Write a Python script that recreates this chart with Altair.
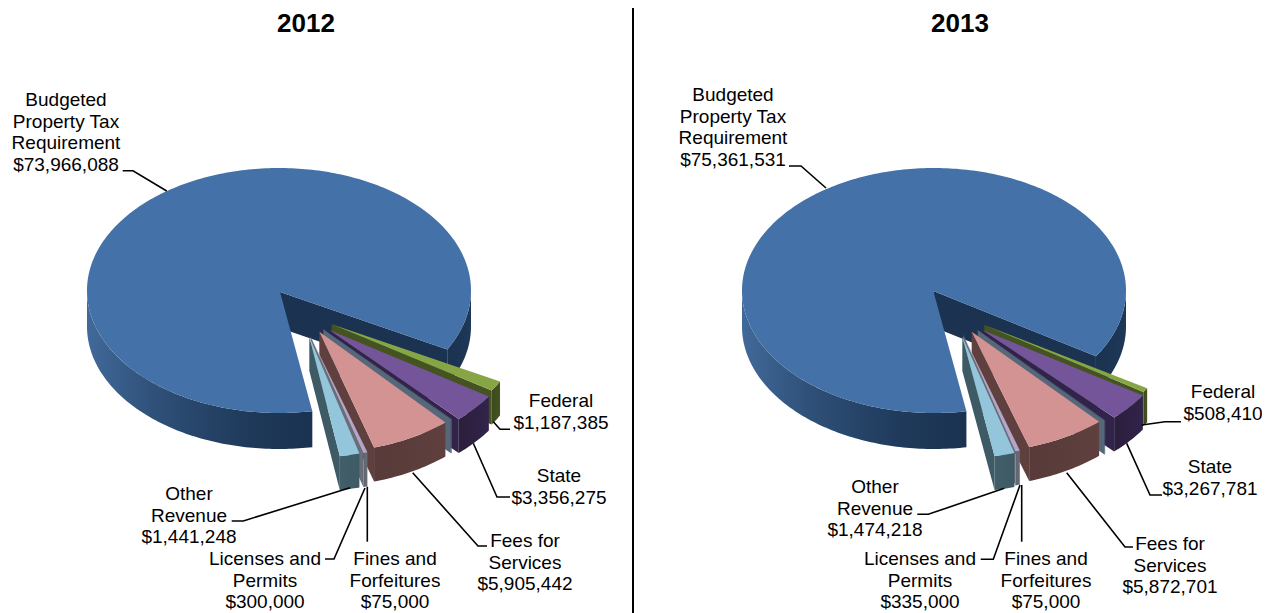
import math
import altair as alt

categories = ["Federal", "State", "Fines and Forfeitures", "Fees for Services",
              "Licenses and Permits", "Other Revenue"]
values_2012 = [1187385, 3356275, 75000, 5905442, 300000, 1441248]
values_2013 = [508410, 3267781, 75000, 5872701, 335000, 1474218]
main_2012 = 73966088
main_2013 = 75361531

top_colors = ["#86a646", "#74559a", "#4e6072", "#d29392", "#b3a6cb", "#93c6da"]
wall_colors = [("#445320", "#3c4a1c"), ("#31234a", "#2b1f3c"), ("#56677a", "#46586a"),
               ("#5f403e", "#573a39"), ("#686d78", "#5f6570"), ("#3e5a64", "#425f69")]
main_top = "#4471a7"

# layout (reference pixel coordinates)
DEPTH = 34
RX, RY = 191.0, 121.0
panels = {
    "2012": dict(
        values=values_2012, main=main_2012, base=28.8,
        centre=(279.0, 290.5), apex=(280.0, 292.0),
        apexes=[(331.7, 324.3), (329.3, 330.0), (323.3, 329.3), (319.3, 331.7), (310.7, 336.7), (309.3, 336.7)],
        nudges=[-0.6, -0.4, 0.0, 0.6, 0.0, 0.8],
    ),
    "2013": dict(
        values=values_2013, main=main_2013, base=32.5,
        centre=(934.0, 290.5), apex=(933.3, 291.0),
        apexes=[(984.3, 325.0), (982.3, 330.0), (977.7, 330.0), (971.7, 331.7), (963.3, 335.0), (962.3, 336.7)],
        nudges=[-1.0, -1.8, 0.0, -0.3, 0.0, 0.0],
    ),
}

labels = [
    # centre x, first-line centre y, lines
    (66, 100, ["Budgeted", "Property Tax", "Requirement", "$73,966,088"]),
    (561, 401, ["Federal", "$1,187,385"]),
    (559, 476, ["State", "$3,356,275"]),
    (525, 541, ["Fees for", "Services", "$5,905,442"]),
    (395, 559, ["Fines and", "Forfeitures", "$75,000"]),
    (265, 559, ["Licenses and", "Permits", "$300,000"]),
    (189, 494, ["Other", "Revenue", "$1,441,248"]),
    (733, 95, ["Budgeted", "Property Tax", "Requirement", "$75,361,531"]),
    (1223, 392, ["Federal", "$508,410"]),
    (1210, 467, ["State", "$3,267,781"]),
    (1170, 544, ["Fees for", "Services", "$5,872,701"]),
    (1046, 559, ["Fines and", "Forfeitures", "$75,000"]),
    (920, 559, ["Licenses and", "Permits", "$335,000"]),
    (875, 487, ["Other", "Revenue", "$1,474,218"]),
]
leaders = [
    [(122.7, 170.7), (133, 170.7), (166.7, 191)],
    [(493.3, 421.7), (500, 429.3), (510, 429.3)],
    [(473.3, 443.3), (497, 497), (510, 497)],
    [(412.7, 472.7), (478, 546), (487, 546)],
    [(350, 487.7), (243.3, 521), (231.7, 521)],
    [(365, 488), (334, 559), (325, 559)],
    [(367.3, 486.7), (367.3, 541.7)],
    [(789, 166), (801, 166), (826, 188)],
    [(1141.7, 425), (1165, 421.7), (1181, 421.7)],
    [(1126.7, 443.3), (1150, 495), (1162, 495)],
    [(1066.7, 472.7), (1125, 547), (1133, 547)],
    [(1004.3, 488.3), (928.3, 514.3), (917.3, 514.3)],
    [(1020, 485), (993.3, 559.3), (980.7, 559.3)],
    [(1021.7, 485), (1021.7, 541.7)],
]
titles = [(306, 24, "2012"), (960, 24, "2013")]

PROJ = dict(type="identity", scale=1, translate=[-8, -8])
FONT = "Liberation Sans"


def pt(c, rx, ry, deg):
    a = math.radians(deg)
    return [c[0] + rx * math.cos(a), c[1] + ry * math.sin(a)]


def arc(c, rx, ry, a, b):
    n = max(2, int(abs(b - a) / 1.0) + 1)
    return [pt(c, rx, ry, a + (b - a) * i / n) for i in range(n + 1)]


def down(pts, d):
    return [[p[0], p[1] + d] for p in pts]


def poly(points, fill):
    ring = [list(p) for p in points]
    ring.append(ring[0])
    feat = {"type": "Feature", "properties": {},
            "geometry": {"type": "Polygon", "coordinates": [ring]}}
    return alt.Chart(alt.Data(values=[feat])).mark_geoshape(
        fill=fill, strokeWidth=0, filled=True).project(**PROJ)


def grad(stops):
    return alt.LinearGradient(
        gradient="linear", x1=0, x2=1, y1=0, y2=0,
        stops=[alt.GradientStop(color=c, offset=o) for o, c in stops])


def pie(panel):
    layers = []
    total = panel["main"] + sum(panel["values"])
    base = panel["base"]
    deg = [v / total * 360 for v in panel["values"]]
    gap = sum(deg)
    end = base + gap
    c, ap = panel["centre"], panel["apex"]

    # main slice: walls then top
    left = arc(c, 192, 122.5, end, 180)
    layers.append(poly(left + down(left[::-1], 36),
                       grad([(0, "#41699a"), (0.3, "#2f5078"), (0.7, "#1f3a5b"), (1, "#1a3250")])))
    right = arc(c, 192, 122.5, 0, base)
    layers.append(poly(right + down(right[::-1], 36),
                       grad([(0, "#1b3250"), (1, "#1e3858")])))
    rim_pt = pt(c, 192, 122.5, base)
    layers.append(poly([ap, rim_pt, [rim_pt[0], rim_pt[1] + 36], [ap[0], ap[1] + 36]], "#1b3250"))
    layers.append(poly([ap] + arc(c, 192, 122.5, end, base + 360), main_top))

    # exploded slices, back to front
    a = base
    for i, d in enumerate(deg):
        s = a + panel["nudges"][i]
        e = s + d
        a += d
        o = panel["apexes"][i]
        rim = arc(o, RX, RY, s, e)
        corner = rim[-1]
        w1, w2 = wall_colors[i]
        layers.append(poly([o, corner, [corner[0], corner[1] + DEPTH], [o[0], o[1] + DEPTH]], w1))
        layers.append(poly(rim + down(rim[::-1], DEPTH), grad([(0, w2), (1, w1)])))
        layers.append(poly([o] + rim, top_colors[i]))
    return layers


layers = []
for p in panels.values():
    layers += pie(p)

# leader lines and divider
line_feats = [{"type": "Feature", "properties": {},
               "geometry": {"type": "LineString", "coordinates": [list(q) for q in l]}}
              for l in leaders]
layers.append(alt.Chart(alt.Data(values=line_feats)).mark_geoshape(
    filled=False, stroke="#000000", strokeWidth=1.6).project(**PROJ))
divider = [{"type": "Feature", "properties": {},
            "geometry": {"type": "LineString", "coordinates": [[633, 0], [633, 640]]}}]
layers.append(alt.Chart(alt.Data(values=divider)).mark_geoshape(
    filled=False, stroke="#000000", strokeWidth=2).project(**PROJ))

rows = []
for cx, cy, lines in labels:
    for j, t in enumerate(lines):
        rows.append({"x": cx - 8, "y": cy + j * 21.7 - 8, "t": t})
layers.append(alt.Chart(alt.Data(values=rows)).mark_text(
    font=FONT, fontSize=19, color="#000000", baseline="middle", align="center").encode(
    x=alt.X("x:Q", scale=None, axis=None), y=alt.Y("y:Q", scale=None, axis=None), text="t:N"))
trows = [{"x": x - 8, "y": y - 8, "t": t} for x, y, t in titles]
layers.append(alt.Chart(alt.Data(values=trows)).mark_text(
    font=FONT, fontSize=26, fontWeight="bold", color="#000000", baseline="middle", align="center").encode(
    x=alt.X("x:Q", scale=None, axis=None), y=alt.Y("y:Q", scale=None, axis=None), text="t:N"))

chart = alt.layer(*layers).properties(
    width=1254, height=605, padding=0, autosize=alt.AutoSizeParams(type="none"), background="#ffffff"
).configure_view(stroke=None)

chart.save("out.html", embed_options={"renderer": "svg", "actions": False})
